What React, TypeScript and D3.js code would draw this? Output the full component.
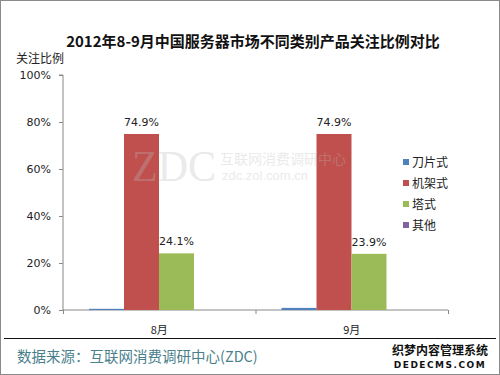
import * as React from "react";
import * as d3 from "d3";

const title = "2012年8-9月中国服务器市场不同类别产品关注比例对比";
const months = ["8月", "9月"];
const seriesNames = ["刀片式", "机架式", "塔式", "其他"];
const bladeValues = [0.5, 0.9];
const rackValues = [74.9, 74.9];
const towerValues = [24.1, 23.9];
const otherValues = [0, 0];
const barLabels = [null, "74.9%", "24.1%", null, null, "74.9%", "23.9%", null];
const yTicks = [0, 20, 40, 60, 80, 100];
const colors = ["#4F81BD", "#C0504D", "#9BBB59", "#8064A2"];

const W = 500;
const H = 375;
const font = "'Noto Sans CJK SC', 'DejaVu Sans', sans-serif";

export default function App() {
  const ref = React.useRef<SVGSVGElement>(null);

  React.useEffect(() => {
    const svg = d3.select(ref.current);
    svg.selectAll("*").remove();

    const left = 63, right = 448, top = 75, bottom = 310;
    const allSeries = [bladeValues, rackValues, towerValues, otherValues];

    const x0 = d3.scaleBand().domain(months).range([left, right]);
    const x1 = d3.scaleBand().domain(seriesNames).range([26, 26 + 35 * 4]);
    const y = d3.scaleLinear().domain([0, 100]).range([bottom, top]);

    svg.append("rect")
      .attr("x", 0.5).attr("y", 0.5)
      .attr("width", W - 1).attr("height", H - 1)
      .attr("fill", "#fff").attr("stroke", "#8a8a8a");

    svg.append("text")
      .attr("x", 253).attr("y", 47)
      .attr("text-anchor", "middle")
      .style("font-family", font).style("font-size", "15px").style("font-weight", "bold")
      .attr("fill", "#111").text(title);

    svg.append("text")
      .attr("x", 16).attr("y", 63)
      .style("font-family", font).style("font-size", "12px")
      .attr("fill", "#222").text("关注比例");

    // y axis
    const yAxis = svg.append("g")
      .attr("transform", `translate(${left},0)`)
      .call(d3.axisLeft(y).tickValues(yTicks).tickSize(4).tickPadding(8).tickFormat((d) => `${d}%`));
    yAxis.select(".domain").attr("stroke", "#888").attr("d", `M-4,${top}H0V${bottom}`);
    yAxis.selectAll(".tick line").attr("stroke", "#888");
    yAxis.selectAll("text").style("font-family", "'DejaVu Sans', sans-serif").style("font-size", "11px").attr("fill", "#222");

    // x axis
    const xAxis = svg.append("g").attr("transform", `translate(0,${bottom})`);
    xAxis.append("path")
      .attr("d", `M${left},0H${right}`)
      .attr("stroke", "#888").attr("fill", "none");
    [left, (left + right) / 2, right].forEach((t) => {
      xAxis.append("line").attr("x1", t + 0.5).attr("x2", t + 0.5).attr("y1", 0).attr("y2", 4).attr("stroke", "#888");
    });
    months.forEach((m) => {
      xAxis.append("text")
        .attr("x", x0(m)! + x0.bandwidth() / 2).attr("y", 24)
        .attr("text-anchor", "middle")
        .style("font-family", font).style("font-size", "11px")
        .attr("fill", "#222").text(m);
    });

    // bars
    months.forEach((m, mi) => {
      const g = svg.append("g").attr("transform", `translate(${x0(m)},0)`);
      seriesNames.forEach((s, si) => {
        const v = allSeries[si][mi];
        g.append("rect")
          .attr("x", x1(s)!).attr("width", x1.bandwidth())
          .attr("y", y(v)).attr("height", bottom - y(v))
          .attr("fill", colors[si]);
        const lab = barLabels[mi * 4 + si];
        if (lab) {
          g.append("text")
            .attr("x", x1(s)! + x1.bandwidth() / 2).attr("y", y(v) - 8)
            .attr("text-anchor", "middle")
            .style("font-family", "'DejaVu Sans', sans-serif").style("font-size", "11px")
            .attr("fill", "#222").text(lab);
        }
      });
    });

    // watermark over the bars
    const wm = svg.append("g").attr("opacity", 0.3).attr("fill", "#bbb");
    wm.append("text").attr("x", 132).attr("y", 181)
      .style("font-family", "'Liberation Serif', serif").style("font-size", "44px")
      .attr("textLength", 84).attr("lengthAdjust", "spacingAndGlyphs").text("ZDC");
    wm.append("text").attr("x", 220).attr("y", 164)
      .style("font-family", font).style("font-size", "14px").text("互联网消费调研中心");
    wm.append("text").attr("x", 222).attr("y", 180)
      .style("font-family", "'Liberation Sans', sans-serif").style("font-size", "13px").text("zdc.zol.com.cn");

    // legend
    const legend = svg.append("g").attr("transform", "translate(403,162)");
    seriesNames.forEach((s, i) => {
      legend.append("rect").attr("x", 0).attr("y", i * 21 - 3).attr("width", 6).attr("height", 6).attr("fill", colors[i]);
      legend.append("text").attr("x", 9).attr("y", i * 21 + 5)
        .style("font-family", font).style("font-size", "12px")
        .attr("fill", "#222").text(s);
    });

    // footer
    svg.append("line").attr("x1", 4).attr("x2", 496).attr("y1", 338.5).attr("y2", 338.5).attr("stroke", "#111");
    svg.append("text")
      .attr("x", 17).attr("y", 362)
      .style("font-family", font).style("font-size", "14.5px")
      .attr("fill", "#4A7F8C").text("数据来源：互联网消费调研中心(ZDC)");
    svg.append("text")
      .attr("x", 440).attr("y", 355)
      .attr("text-anchor", "middle")
      .style("font-family", font).style("font-size", "12px").style("font-weight", "bold")
      .attr("fill", "#111").text("织梦内容管理系统");
    svg.append("text")
      .attr("x", 440).attr("y", 368)
      .attr("text-anchor", "middle")
      .style("font-family", "'DejaVu Sans', sans-serif").style("font-size", "9px").style("font-weight", "bold")
      .attr("letter-spacing", "1.5").attr("fill", "#111").text("DEDECMS.COM");
  }, []);

  return (
    <div style={{ position: "fixed", left: 0, top: 0 }}>
      <svg ref={ref} width={W} height={H} style={{ display: "block" }} />
    </div>
  );
}
